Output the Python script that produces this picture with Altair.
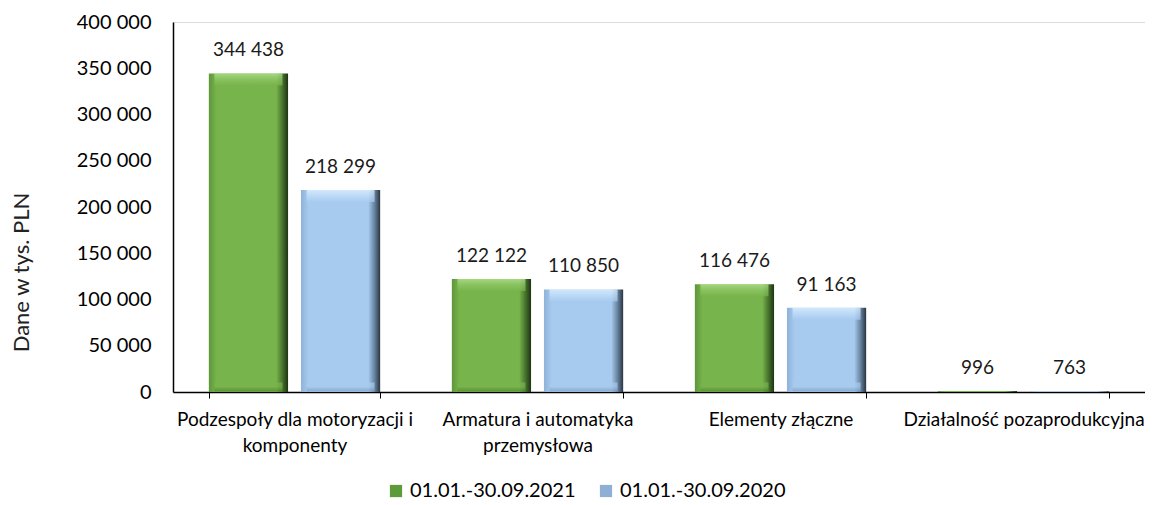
import altair as alt
import pandas as pd

categories = [
    "Podzespoły dla motoryzacji i\nkomponenty",
    "Armatura i automatyka\nprzemysłowa",
    "Elementy złączne",
    "Działalność pozaprodukcyjna",
]
series = ["01.01.-30.09.2021", "01.01.-30.09.2020"]
values_2021 = [344438, 122122, 116476, 996]
values_2020 = [218299, 110850, 91163, 763]

rows = []
for c, v in zip(categories, values_2021):
    rows.append({"cat": c, "series": series[0], "value": v})
for c, v in zip(categories, values_2020):
    rows.append({"cat": c, "series": series[1], "value": v})
df = pd.DataFrame(rows)
df["label"] = df["value"].map(lambda v: f"{v:,}".replace(",", " "))

FONT = "Lato"
GREEN = "#78b44c"
BLUE = "#a7caef"

def hgrad(main, edge_l, edge_r, edge_far):
    return alt.LinearGradient(
        gradient="linear", x1=0, x2=1, y1=0, y2=0,
        stops=[
            alt.GradientStop(color=edge_l, offset=0),
            alt.GradientStop(color=main, offset=0.1),
            alt.GradientStop(color=main, offset=0.85),
            alt.GradientStop(color=edge_r, offset=0.94),
            alt.GradientStop(color=edge_far, offset=1),
        ],
    )

def vgrad(c_top, c_mid, c_bot):
    return alt.LinearGradient(
        gradient="linear", x1=0, x2=0, y1=0, y2=1,
        stops=[alt.GradientStop(color=c_top, offset=0),
               alt.GradientStop(color=c_mid, offset=0.45),
               alt.GradientStop(color=c_bot, offset=1)],
    )

x_enc = alt.X(
    "cat:N", sort=categories, title=None,
    scale=alt.Scale(paddingInner=0.295, paddingOuter=0.1475),
    axis=alt.Axis(
        labelExpr="split(datum.label, '\\n')", labelAngle=0, labelFontSize=19,
        labelLineHeight=26, labelColor="#000000", labelPadding=12, labelFont=FONT,
        labelLimit=0, domainColor="#000000", domainWidth=1.5, ticks=True,
        tickBand="extent", tickSize=6, tickColor="#000000", labelBaseline="top",
    ),
)
xo_enc = alt.XOffset("series:N", sort=series, scale=alt.Scale(domain=series, paddingInner=0.14, paddingOuter=0))
y_enc = alt.Y(
    "value:Q", title="Dane w tys. PLN",
    scale=alt.Scale(domain=[0, 400000], nice=False),
    axis=alt.Axis(
        values=list(range(0, 400001, 50000)),
        labelExpr="replace(format(datum.value, ','), ',', ' ')",
        grid=False, ticks=False, domainColor="#000000", domainWidth=1.5,
        labelFontSize=20, labelColor="#000000", labelPadding=22, labelFont=FONT,
        titleFontSize=22, titleFont=FONT, titleFontWeight="normal", titleColor="#222222",
        titleAngle=270, titleX=-152, titleY=250, titleBaseline="middle", titleAlign="center",
    ),
)

base = alt.Chart(df)
layers = []
specs = [
    (series[0], GREEN, "#5e963b", "#3f6a28", "#1f3314", "#b9e696", "#93cb6b", "#4f8232"),
    (series[1], BLUE, "#8fb3d8", "#5d7893", "#2c3440", "#e6f4ff", "#c6e2fb", "#7d9cbb"),
]
for s, main, el, er, ef, light, mid, dark in specs:
    b = base.transform_filter(alt.datum.series == s)
    layers.append(b.mark_bar(color=hgrad(main, el, er, ef)).encode(x=x_enc, xOffset=xo_enc, y=y_enc))
    big = b.transform_filter(alt.datum.value > 5000)
    layers.append(
        big.mark_tick(orient="horizontal", thickness=12, size=68, yOffset=6,
                      color=vgrad(light, mid, main)).encode(x=x_enc, xOffset=xo_enc, y="value:Q")
    )
    layers.append(
        big.mark_tick(orient="horizontal", thickness=9, size=68, yOffset=-5,
                      color=vgrad(main, main, dark)).encode(x=x_enc, xOffset=xo_enc, y=alt.datum(0))
    )

text = base.mark_text(baseline="bottom", dy=-13, fontSize=19, font=FONT, color="#1a1a1a").encode(
    x=x_enc, xOffset=xo_enc, y="value:Q", text="label:N"
)
legend_layer = base.mark_square(opacity=0, size=1).encode(
    x=x_enc, y="value:Q",
    color=alt.Color(
        "series:N", sort=series,
        scale=alt.Scale(domain=series, range=["#5d9a3a", "#8fb0d4"]),
        legend=alt.Legend(
            title=None, orient="none", direction="horizontal", legendX=213, legendY=459,
            symbolType="square", symbolSize=150, symbolOpacity=1, symbolStrokeWidth=0,
            labelFontSize=20, labelFont=FONT, labelColor="#000000", columnPadding=20,
            symbolOffset=0, labelOffset=4, labelLimit=0,
        ),
    ),
)

chart = alt.layer(*layers, text, legend_layer).properties(
    width=972, height=370,
    autosize=alt.AutoSizeParams(type="none"),
    padding={"left": 165, "top": 14, "right": 0, "bottom": 111},
).configure_view(stroke=None).configure(font=FONT)

chart.save("out.html", embed_options={"renderer": "svg", "actions": False})
